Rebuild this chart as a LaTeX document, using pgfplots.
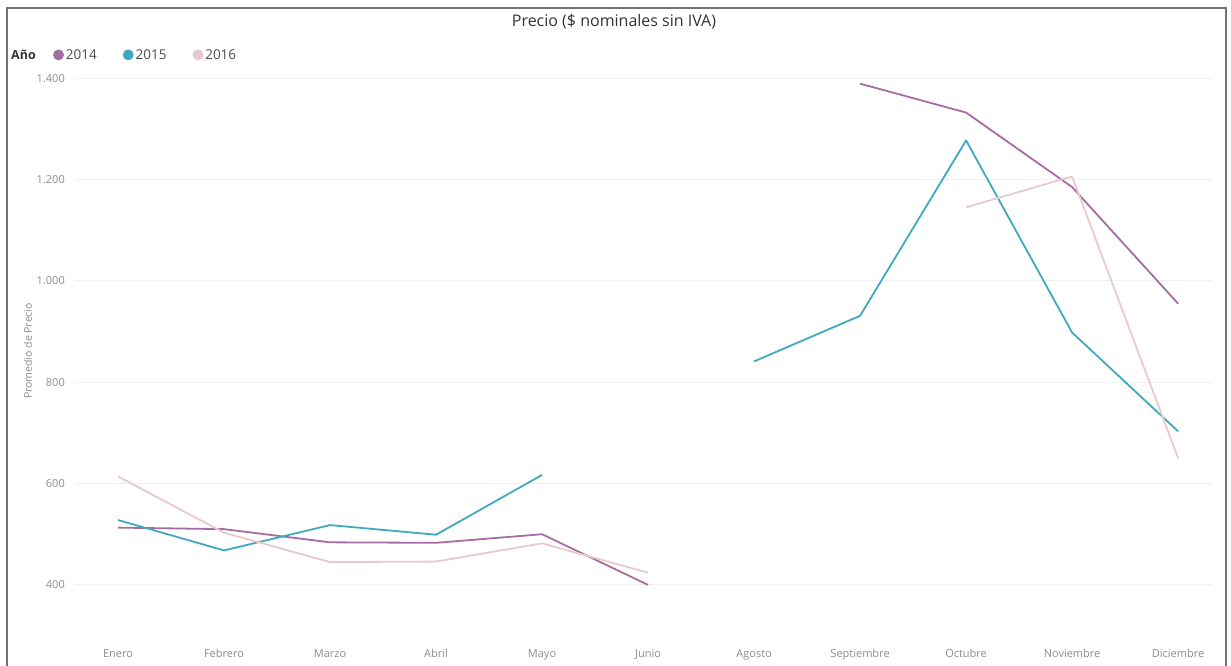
\documentclass[border=0pt]{standalone}
\usepackage{fontspec}
\setmainfont{Open Sans}
\usepackage{pgfplots}
\usepackage{pgfplotstable}
\pgfplotsset{compat=1.18}

\definecolor{c2014}{HTML}{A66CA4}
\definecolor{c2015}{HTML}{3FA9BF}
\definecolor{c2016}{HTML}{E8CACA}
\definecolor{tickgray}{HTML}{8C8C8C}
\definecolor{gridgray}{HTML}{F0F0F0}

% Average price per month (nan = no data for that month)
\pgfplotstableread{
x  a2014  a2015  a2016
0  513    528    614
1  510    468    503
2  484    518    445
3  483    499    446
4  500    617    482
5  400    nan    424
6  nan    841    nan
7  1389   931    nan
8  1332   1277   1145
9  1185   898    1206
10 955    703    650
}\precio

\begin{document}
\begin{tikzpicture}[x=1pt,y=1pt]
\path[use as bounding box] (0,0) rectangle (1231,666);
% report frame
\draw[color=black!55, line width=1.3pt] (7,0) -- (7,658) -- (1226,658) -- (1226,0);
% title
\node[font=\fontsize{16}{18}\selectfont, text=black!80] at (614,644) {Precio (\$ nominales sin IVA)};
% y axis title
\node[font=\fontsize{10.5}{12}\selectfont, text=tickgray, rotate=90] at (28,315) {Promedio de Precio};
% legend caption
\node[font=\fontsize{12.5}{14}\selectfont\bfseries, text=black!80, anchor=west, inner sep=0pt] at (11,611) {Año};

\begin{axis}[
  at={(75pt,36pt)}, anchor=south west,
  width=1137pt, height=560pt, scale only axis,
  xmin=-0.406, xmax=10.32,
  ymin=311, ymax=1416,
  axis line style={draw=none},
  major tick length=0pt,
  xtick={0,...,10},
  xticklabels={Enero,Febrero,Marzo,Abril,Mayo,Junio,Agosto,Septiembre,Octubre,Noviembre,Diciembre},
  ytick={400,600,...,1400},
  ymajorgrids,
  grid style={gridgray, line width=1pt},
  /pgf/number format/.cd, 1000 sep={.}, assume math mode=true,
  /pgfplots/.cd,
  xticklabel style={font=\fontsize{11}{13}\selectfont, text=tickgray, anchor=north, inner sep=0pt, yshift=-19pt},
  yticklabel style={font=\fontsize{11}{13}\selectfont, text=tickgray, anchor=east, inner sep=0pt, xshift=-10pt},
  unbounded coords=jump,
  legend columns=-1,
  legend image code/.code={\fill (4.5pt,0pt) circle (4.5pt);},
  legend style={at={(-0.0194,1.027)}, anchor=west, draw=none, fill=none,
    font=\fontsize{13.5}{15}\selectfont, text=black!70, inner sep=0pt,
    /tikz/every odd column/.append style={column sep=0pt},
    /tikz/every even column/.append style={column sep=24pt}},
  every axis plot/.append style={line width=1.8pt, line join=round},
]
\addplot[c2014, mark=none] table[x=x, y=a2014] {\precio};
\addlegendentry{2014}
\addplot[c2015, mark=none] table[x=x, y=a2015] {\precio};
\addlegendentry{2015}
\addplot[c2016, mark=none] table[x=x, y=a2016] {\precio};
\addlegendentry{2016}
\end{axis}
\end{tikzpicture}
\end{document}
